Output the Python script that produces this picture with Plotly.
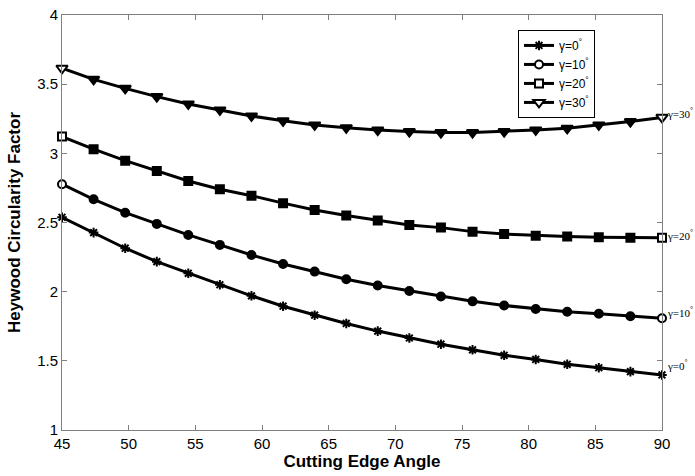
import plotly.graph_objects as go

angle = [45, 47.37, 49.74, 52.11, 54.47, 56.84, 59.21, 61.58, 63.95, 66.32,
         68.68, 71.05, 73.42, 75.79, 78.16, 80.53, 82.89, 85.26, 87.63, 90]

g0 = [2.538, 2.427, 2.314, 2.217, 2.133, 2.05, 1.97, 1.895, 1.83, 1.77,
      1.715, 1.665, 1.62, 1.58, 1.54, 1.51, 1.475, 1.45, 1.422, 1.398]
g10 = [2.777, 2.668, 2.571, 2.490, 2.410, 2.338, 2.265, 2.20, 2.145, 2.09,
       2.045, 2.005, 1.965, 1.93, 1.90, 1.875, 1.855, 1.84, 1.822, 1.808]
g20 = [3.121, 3.030, 2.947, 2.873, 2.800, 2.740, 2.694, 2.64, 2.59, 2.55,
       2.515, 2.482, 2.463, 2.434, 2.417, 2.405, 2.398, 2.393, 2.39, 2.39]
g30 = [3.615, 3.535, 3.470, 3.410, 3.357, 3.314, 3.270, 3.235, 3.205, 3.185,
       3.168, 3.157, 3.150, 3.150, 3.157, 3.169, 3.181, 3.205, 3.23, 3.26]

names = ["γ=0<sup>°</sup>", "γ=10<sup>°</sup>", "γ=20<sup>°</sup>", "γ=30<sup>°</sup>"]
end_labels = ["γ=0<sup>°</sup>", "γ=10<sup>°</sup>", "γ=20<sup>°</sup>", "γ=30<sup>°</sup>"]
label_y = [1.47, 1.85, 2.41, 3.29]
series = [g0, g10, g20, g30]
symbols = ["asterisk-open", "circle", "square", "triangle-down"]
sizes = [8, 8, 8, 10]

fig = go.Figure()
for name, ys, sym, sz in zip(names, series, symbols, sizes):
    fills = ["black"] * len(ys)
    if sym != "asterisk-open":
        fills[0] = "white"
        fills[-1] = "white"
    fig.add_trace(go.Scatter(
        x=angle, y=ys, name=name, mode="lines+markers",
        line=dict(color="black", width=3),
        marker=dict(symbol=sym, size=sz, color=fills,
                    line=dict(color="black", width=2)),
        cliponaxis=False,
    ))

for txt, yv in zip(end_labels, label_y):
    fig.add_annotation(x=90, y=yv, xref="x", yref="y", text=txt,
                       showarrow=False, xanchor="left", xshift=3,
                       font=dict(family="Liberation Serif", size=11, color="black"))

axis_common = dict(showline=True, linecolor="#808080", linewidth=1, mirror="allticks",
                   ticks="inside", ticklen=5, tickcolor="#808080", showgrid=False,
                   zeroline=False, automargin=False, ticklabeloverflow="allow",
                   tickfont=dict(family="Liberation Sans", size=15, color="black"))

fig.update_xaxes(range=[45, 90], dtick=5, tick0=45,
                 title=dict(text="<b>Cutting Edge Angle</b>", standoff=4,
                            font=dict(family="Liberation Sans", size=17, color="black")),
                 **axis_common)
fig.update_yaxes(range=[1, 4], dtick=0.5, tick0=1,
                 title=dict(text="<b>Heywood Circularity Factor</b>", standoff=12,
                            font=dict(family="Liberation Sans", size=17, color="black")),
                 **axis_common)

fig.update_layout(
    width=695, height=476,
    margin=dict(l=62, r=33, t=15, b=46, autoexpand=False),
    paper_bgcolor="white", plot_bgcolor="white",
    showlegend=True,
    legend=dict(x=0.76, y=0.964, xanchor="left", yanchor="top",
                bgcolor="white", bordercolor="black", borderwidth=1,
                font=dict(family="Liberation Sans", size=12, color="black"),
                tracegroupgap=0, itemwidth=30),
)

fig.write_html("out.html", config={"displayModeBar": False},
               post_script="document.body.style.margin='0';document.body.style.overflow='hidden';")
